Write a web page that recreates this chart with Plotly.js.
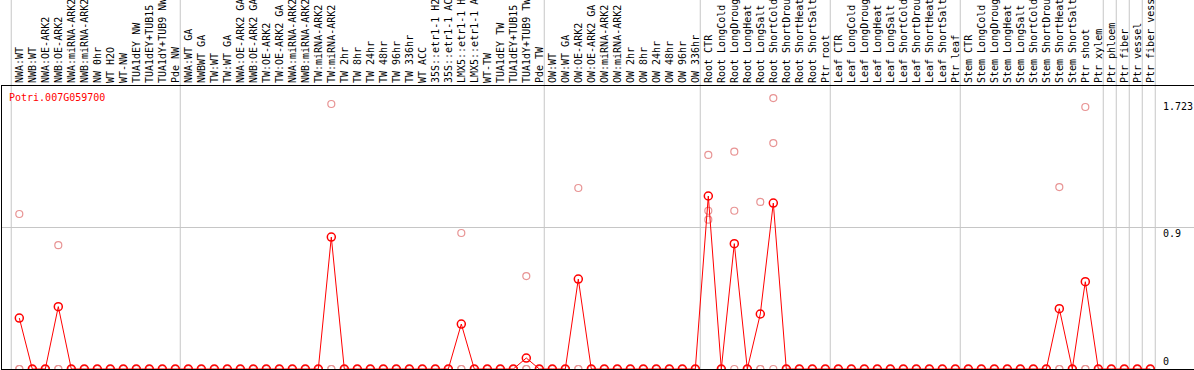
<!DOCTYPE html>
<html><head><meta charset="utf-8">
<script src="https://cdn.plot.ly/plotly-3.0.1.min.js"></script>
<style>html,body{margin:0;padding:0;background:#fff;overflow:hidden}#chart{width:1194px;height:370px}</style>
</head><body><div id="chart"></div>
<script>
const categories = [
  'NWA:WT','NWB:WT','NWA:OE-ARK2','NWB:OE-ARK2','NWA:miRNA-ARK2','NWB:miRNA-ARK2','NW 0hr','WT H2O','WT-NW','TUA1dEY NW',
  'TUA1dEY+TUB15 NW','TUA1dY+TUB9 NW','Pde NW','NWA:WT GA','NWBWT GA','TW:WT','TW:WT GA','NWA:OE-ARK2 GA','NWB:OE-ARK2 GA','TW:OE-ARK2',
  'TW:OE-ARK2 GA','NWA:miRNA-ARK2','NWB:miRNA-ARK2','TW:miRNA-ARK2','TW:miRNA-ARK2','TW 2hr','TW 8hr','TW 24hr','TW 48hr','TW 96hr',
  'TW 336hr','WT ACC','35S::etr1-1 H2O','35S::etr1-1 ACC','LMX5::etr1-1 H2O','LMX5::etr1-1 ACC','WT-TW','TUA1dEY TW','TUA1dEY+TUB15 TW','TUA1dY+TUB9 TW',
  'Pde TW','OW:WT','OW:WT GA','OW:OE-ARK2','OW:OE-ARK2 GA','OW:miRNA-ARK2','OW:miRNA-ARK2','OW 2hr','OW 8hr','OW 24hr',
  'OW 48hr','OW 96hr','OW 336hr','Root CTR','Root LongCold','Root LongDrought','Root LongHeat','Root LongSalt','Root ShortCold','Root ShortDrought',
  'Root ShortHeat','Root ShortSalt','Ptr root','Leaf CTR','Leaf LongCold','Leaf LongDrought','Leaf LongHeat','Leaf LongSalt','Leaf ShortCold','Leaf ShortDrought',
  'Leaf ShortHeat','Leaf ShortSalt','Ptr leaf','Stem CTR','Stem LongCold','Stem LongDrought','Stem LongHeat','Stem LongSalt','Stem ShortCold','Stem ShortDrought',
  'Stem ShortHeat','Stem ShortSalt','Ptr shoot','Ptr xylem','Ptr phloem','Ptr fiber','Ptr vessel','Ptr fiber vessel'
];
const meanValues = [
  0.325,0,0,0.398,0,0,0,0,0,0,
  0,0,0,0,0,0,0,0,0,0,
  0,0,0,0,0.842,0,0,0,0,0,
  0,0,0,0,0.287,0,0,0,0,0.070,
  0,0,0,0.574,0,0,0,0,0,0,
  0,0,0,1.104,0,0.800,0,0.351,1.059,0,
  0,0,0,0,0,0,0,0,0,0,
  0,0,0,0,0,0,0,0,0,0,
  0.385,0,0.557,0,0,0,0,0
];
const rep1 = [
  0.989,0,0,0.790,0,0,0,0,0,0,
  0,0,0,0,0,0,0,0,0,0,
  0,0,0,0,1.691,0,0,0,0,0,
  0,0,0,0,0.868,0,0,0,0,0.593,
  0,0,0,1.155,0,0,0,0,0,0,
  0,0,0,1.366,0,1.387,0,1.066,1.729,0,
  0,0,0,0,0,0,0,0,0,0,
  0,0,0,0,0,0,0,0,0,0,
  1.161,0,1.672,0,0,0,0,0
];
const rep2 = [
  0,0,0,0,0,0,0,0,0,0,
  0,0,0,0,0,0,0,0,0,0,
  0,0,0,0,0,0,0,0,0,0,
  0,0,0,0,0,0,0,0,0,0,
  0,0,0,0,0,0,0,0,0,0,
  0,0,0,1.010,0,1.010,0,0,1.442,0,
  0,0,0,0,0,0,0,0,0,0,
  0,0,0,0,0,0,0,0,0,0,
  0,0,0,0,0,0,0,0
];
const rep3 = [
  0,0,0,0,0,0,0,0,0,0,
  0,0,0,0,0,0,0,0,0,0,
  0,0,0,0,0,0,0,0,0,0,
  0,0,0,0,0,0,0,0,0,0,
  0,0,0,0,0,0,0,0,0,0,
  0,0,0,0.953,0,0,0,0,0,0,
  0,0,0,0,0,0,0,0,0,0,
  0,0,0,0,0,0,0,0,0,0,
  0,0,0,0,0,0,0,0
];
const geneId = 'Potri.007G059700';
const groupBounds = [-0.5, 12.5, 40.5, 52.5, 62.5, 72.5, 83.5, 84.5, 85.5, 86.5, 87.5];
const yTickVals = [0, 0.9, 1.723];
const yTickText = ['0', '0.9', '1.723'];

const xIdx = categories.map((_, i) => i);
const mono = 'DejaVu Sans Mono, monospace';
const pink = '#e89494';
const grid = '#c6c6c6';

const repTrace = (vals) => ({
  x: xIdx, y: vals, type: 'scatter', mode: 'markers', cliponaxis: true,
  marker: {symbol: 'circle-open', size: 7, color: pink, line: {width: 1.2, color: pink}},
  hoverinfo: 'skip', showlegend: false
});
const traces = [
  repTrace(rep1), repTrace(rep2), repTrace(rep3),
  {x: xIdx, y: meanValues, type: 'scatter', mode: 'lines+markers', cliponaxis: true,
   line: {color: '#ff0000', width: 1},
   marker: {symbol: 'circle-open', size: 8, color: '#ff0000', line: {width: 1.5, color: '#ff0000'}},
   showlegend: false}
];

const H = 370, T = 86, B = 1;
const plotH = H - T - B;
const shapes = groupBounds.map(b => ({
  type: 'line', xref: 'x', yref: 'paper', x0: b - 0.12, x1: b - 0.12, y0: 0, y1: (H - B) / plotH + 0.01,
  line: {color: grid, width: 1}, layer: 'below'
}));

const annotations = [{
  xref: 'paper', yref: 'paper', x: 0, y: (H - B - 97) / plotH, xanchor: 'left', yanchor: 'middle',
  xshift: 5, text: geneId, showarrow: false, font: {family: mono, size: 10, color: '#ff0000'}
}].concat(yTickVals.map((v, k) => ({
  xref: 'x', yref: 'y', x: categories.length, y: v, xanchor: 'left', yanchor: v === 0 ? 'bottom' : 'top',
  xshift: -2, yshift: v === 0.9 ? 2 : 0, text: yTickText[k], showarrow: false,
  font: {family: mono, size: 10, color: '#000'}
})));

const layout = {
  width: 1194, height: H,
  margin: {l: 2, r: 0, t: T, b: B, pad: 0},
  paper_bgcolor: '#fff', plot_bgcolor: '#fff',
  showlegend: false,
  xaxis: {
    side: 'top', range: [-1.331, 90.36], tickmode: 'array', tickvals: xIdx, ticktext: categories,
    tickangle: -90, tickfont: {family: mono, size: 10, color: '#000'}, ticks: '',
    showline: true, mirror: true, linecolor: '#000', linewidth: 1, showgrid: false, zeroline: false, fixedrange: true
  },
  yaxis: {
    range: [0, plotH / 156.7], tickmode: 'array', tickvals: [0.9], showticklabels: false, ticks: '',
    showgrid: true, gridcolor: grid, gridwidth: 1, zeroline: false,
    showline: true, linecolor: '#000', linewidth: 1, fixedrange: true
  },
  shapes: shapes,
  annotations: annotations
};
Plotly.newPlot('chart', traces, layout, {displayModeBar: false, staticPlot: true});
</script></body></html>
